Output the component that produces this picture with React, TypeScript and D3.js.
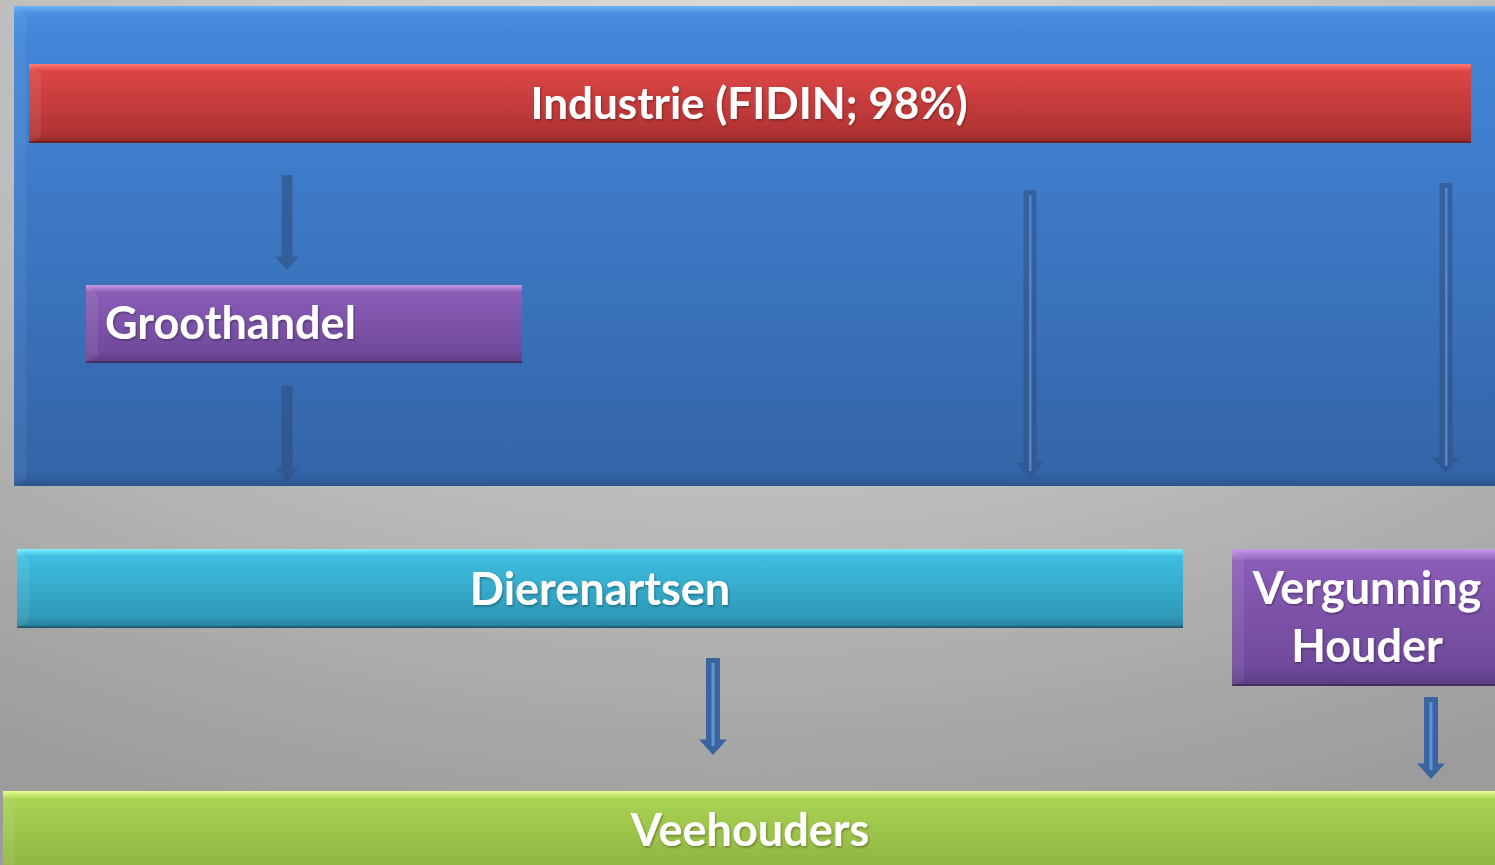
import React from "react";
import * as d3 from "d3";

// Diagram content
const nodeIds = ["industrie", "groothandel", "dierenartsen", "vergunning", "veehouders"];
const nodeLabels = [["Industrie (FIDIN; 98%)"], ["Groothandel"], ["Dierenartsen"], ["Vergunning", "Houder"], ["Veehouders"]];
const arrowFrom = ["industrie", "groothandel", "industrie", "industrie", "dierenartsen", "vergunning"];
const arrowTo = ["groothandel", "dierenartsen", "dierenartsen", "vergunning", "veehouders", "veehouders"];

// Layout (pixel space)
const W = 1495, H = 865;
const nodeBoxes: Record<string, { x: number; y: number; w: number; h: number; align: "middle" | "start"; tx: number; size: number; lineGap?: number; ty?: number }> = {
  industrie: { x: 29, y: 64, w: 1442, h: 79, align: "middle", tx: 749, size: 44 },
  groothandel: { x: 86, y: 285, w: 436, h: 78, align: "start", tx: 105, size: 45, ty: 323 },
  dierenartsen: { x: 17, y: 549, w: 1166, h: 79, align: "middle", tx: 600, size: 45 },
  vergunning: { x: 1232, y: 549, w: 280, h: 137, align: "middle", tx: 1367, size: 45, lineGap: 58, ty: 617 },
  veehouders: { x: 3, y: 791, w: 1510, h: 90, align: "middle", tx: 750, size: 45, ty: 830 },
};
const nodeColors: Record<string, [string, string, string]> = {
  industrie: ["#ff7a72", "#dc4545", "#a83030"],
  groothandel: ["#c89ae8", "#8a5cb6", "#6a4595"],
  dierenartsen: ["#7ff0ff", "#3dbfe0", "#2c8fae"],
  vergunning: ["#c89ae8", "#8a5cb6", "#6a4595"],
  veehouders: ["#e8ff90", "#a9d252", "#8aae3e"],
};
const arrowGeom = [
  { x: 287, y0: 175, y1: 270, shaft: 11, head: 24, style: "solid" },
  { x: 287, y0: 386, y1: 481, shaft: 11, head: 24, style: "solid" },
  { x: 1030, y0: 190, y1: 478, shaft: 13, head: 28, style: "outline" },
  { x: 1446, y0: 183, y1: 473, shaft: 13, head: 28, style: "outline" },
  { x: 713, y0: 658, y1: 755, shaft: 14, head: 28, style: "outline2" },
  { x: 1431, y0: 697, y1: 779, shaft: 14, head: 28, style: "outline2" },
];

const FONT = "Lato, 'Open Sans', sans-serif";

function Box({ id }: { id: string }) {
  const b = nodeBoxes[id];
  const [hi, mid, lo] = nodeColors[id];
  const labels = nodeLabels[nodeIds.indexOf(id)];
  const yScale = d3.scaleLinear().domain([0, 1]).range([b.y, b.y + b.h]);
  const gap = b.lineGap ?? 0;
  const cy = b.ty ?? yScale(0.5);
  return (
    <g>
      <defs>
        <linearGradient id={`g-${id}`} x1="0" y1="0" x2="0" y2="1">
          <stop offset="0" stopColor={hi} />
          <stop offset="0.09" stopColor={mid} />
          <stop offset="0.85" stopColor={d3.interpolateRgb(mid, lo)(0.8)} />
          <stop offset="1" stopColor={d3.color(lo)!.darker(0.4).toString()} />
        </linearGradient>
      </defs>
      <rect x={b.x} y={b.y} width={b.w} height={b.h} fill={`url(#g-${id})`} />
      <polygon
        points={`${b.x},${b.y} ${b.x + 12},${b.y + 10} ${b.x + 12},${b.y + b.h - 6} ${b.x},${b.y + b.h}`}
        fill="#ffffff"
        opacity={0.08}
      />
      <rect x={b.x} y={b.y + b.h - 2} width={b.w} height={2} fill="#000" opacity={0.25} />
      {labels.map((t, i) => (
        <text
          key={i}
          x={b.tx}
          y={cy + (i - (labels.length - 1) / 2) * gap}
          dy="0.36em"
          textAnchor={b.align}
          fontFamily={FONT}
          fontWeight={700}
          fontSize={b.size}
          fill="#ffffff"
          filter="url(#tshadow)"
        >
          {t}
        </text>
      ))}
    </g>
  );
}

function Arrow({ a }: { a: (typeof arrowGeom)[number] }) {
  const headH = a.head * 0.55;
  const sy = a.y1 - headH;
  const hs = a.shaft / 2;
  const hh = a.head / 2;
  const path = d3.path();
  path.moveTo(a.x - hs, a.y0);
  path.lineTo(a.x + hs, a.y0);
  path.lineTo(a.x + hs, sy);
  path.lineTo(a.x + hh, sy);
  path.lineTo(a.x, a.y1);
  path.lineTo(a.x - hh, sy);
  path.lineTo(a.x - hs, sy);
  path.closePath();
  if (a.style === "solid") {
    return <path d={path.toString()} fill="#2f4f80" opacity={0.6} />;
  }
  if (a.style === "outline") {
    return (
      <g>
        <path d={path.toString()} fill="#2f4f80" opacity={0.55} />
        <rect x={a.x - 1} y={a.y0 + 5} width={2.5} height={a.y1 - a.y0 - 12} fill="#5a8fd6" opacity={0.8} />
      </g>
    );
  }
  return (
    <g>
      <path d={path.toString()} fill="#3a64a0" />
      <rect x={a.x - 1.5} y={a.y0 + 5} width={3} height={a.y1 - a.y0 - 14} fill="#5b93d8" />
    </g>
  );
}

export default function App() {
  return (
    <svg width={W} height={H} style={{ position: "absolute", left: 0, top: 0 }}>
      <defs>
        <radialGradient id="bg" cx="0.5" cy="0.05" r="0.95" fx="0.5" fy="0.05">
          <stop offset="0" stopColor="#dcdcdc" />
          <stop offset="0.55" stopColor="#bdbdbd" />
          <stop offset="1" stopColor="#9c9c9c" />
        </radialGradient>
        <linearGradient id="blue" x1="0" y1="0" x2="0" y2="1">
          <stop offset="0" stopColor="#70b2f4" />
          <stop offset="0.015" stopColor="#4c8fe0" />
          <stop offset="0.06" stopColor="#4386d8" />
          <stop offset="0.97" stopColor="#3465a8" />
          <stop offset="1" stopColor="#2b5590" />
        </linearGradient>
        <filter id="tshadow" x="-10%" y="-30%" width="120%" height="160%">
          <feDropShadow dx="1" dy="1.5" stdDeviation="1.2" floodColor="#000" floodOpacity="0.35" />
        </filter>
      </defs>
      <rect x={0} y={0} width={W} height={H} fill="url(#bg)" />
      {/* Industry domain panel */}
      <rect x={14} y={6} width={W} height={480} fill="url(#blue)" />
      <polygon points="14,6 26,16 26,480 14,486" fill="#ffffff" opacity={0.06} />
      {nodeIds.map((id) => (
        <Box key={id} id={id} />
      ))}
      {arrowGeom.map((a, i) => (
        <Arrow key={arrowFrom[i] + arrowTo[i] + i} a={a} />
      ))}
    </svg>
  );
}
